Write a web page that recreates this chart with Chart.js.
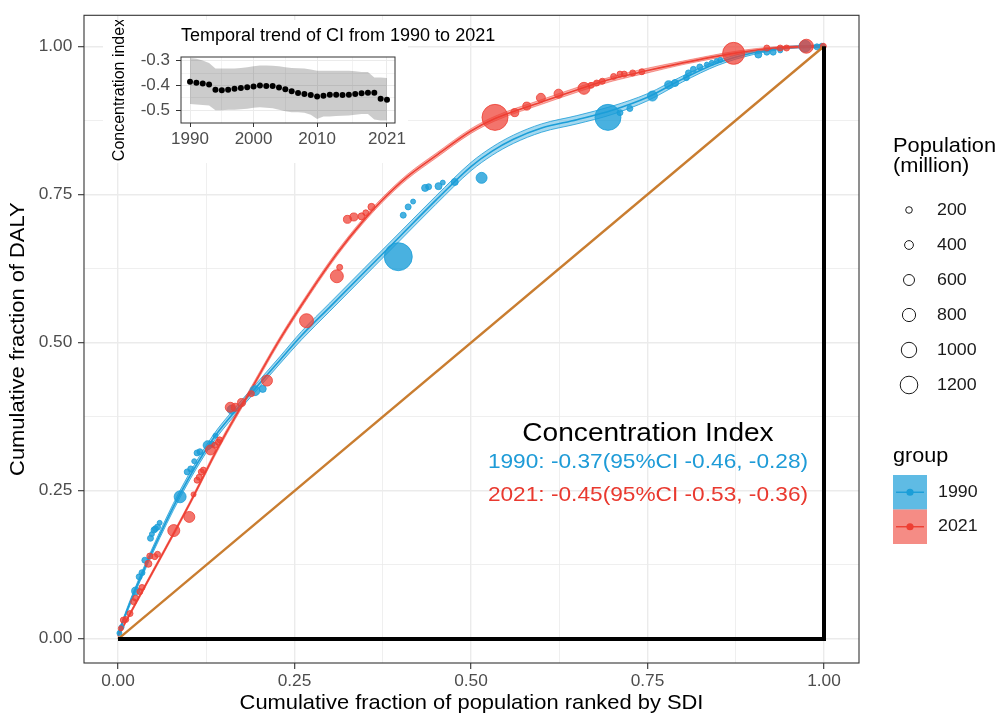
<!DOCTYPE html>
<html>
<head>
<meta charset="utf-8">
<script src="https://cdn.jsdelivr.net/npm/chart.js@4.4.1/dist/chart.umd.min.js"></script>
<style>
html,body{margin:0;padding:0;background:#fff;}
#wrap{position:relative;width:998px;height:716px;background:#fff;}
#main{position:absolute;left:0;top:0;width:998px;height:716px;}
#inset{position:absolute;left:103px;top:20px;width:410px;height:145px;}
</style>
</head>
<body>
<div id="wrap">
<canvas id="main" width="998" height="716"></canvas>
<canvas id="inset" width="410" height="145"></canvas>
</div>
<script>
// ---------------- DATA ----------------
// 1990 countries/territories: cumulative population fraction, cumulative DALY fraction, population (million)
const x1990 = [0.002,0.005,0.025,0.030,0.034,0.038,0.046,0.048,0.051,0.053,0.056,0.059,0.088,0.098,0.103,0.108,0.112,0.116,0.127,0.133,0.138,0.161,0.194,0.205,0.397,0.404,0.411,0.418,0.435,0.440,0.454,0.460,0.477,0.515,0.694,0.711,0.725,0.757,0.780,0.789,0.805,0.808,0.815,0.824,0.834,0.841,0.848,0.853,0.907,0.919,0.928,0.938,0.973,0.990,0.997];
const y1990 = [0.010,0.020,0.081,0.105,0.112,0.133,0.170,0.177,0.184,0.186,0.189,0.196,0.240,0.282,0.287,0.300,0.314,0.316,0.327,0.329,0.343,0.387,0.419,0.422,0.645,0.715,0.729,0.738,0.761,0.763,0.764,0.770,0.771,0.778,0.880,0.888,0.895,0.916,0.935,0.938,0.947,0.955,0.961,0.965,0.969,0.972,0.975,0.977,0.986,0.990,0.990,0.993,1.000,0.999,1.000];
const pop1990 = [55,55,330,145,145,145,145,55,145,145,145,55,690,145,145,55,145,145,420,145,55,420,510,240,2145,145,145,55,240,145,240,55,240,600,1965,145,145,510,330,240,145,145,145,145,55,55,55,55,240,145,145,55,690,145,145];

const x2021 = [0.004,0.0075,0.011,0.017,0.022,0.025,0.031,0.034,0.043,0.045,0.052,0.056,0.079,0.101,0.107,0.112,0.115,0.118,0.121,0.131,0.137,0.142,0.144,0.159,0.166,0.175,0.189,0.211,0.267,0.310,0.314,0.325,0.334,0.345,0.351,0.359,0.534,0.562,0.579,0.599,0.624,0.660,0.670,0.678,0.686,0.702,0.711,0.717,0.729,0.742,0.872,0.919,0.938,0.947,0.975,0.999];
const y2021 = [0.018,0.032,0.033,0.043,0.063,0.069,0.080,0.087,0.127,0.140,0.139,0.143,0.183,0.206,0.244,0.268,0.273,0.282,0.285,0.319,0.327,0.332,0.336,0.391,0.391,0.399,0.414,0.436,0.537,0.612,0.627,0.708,0.712,0.713,0.719,0.729,0.880,0.888,0.899,0.913,0.920,0.929,0.934,0.938,0.941,0.949,0.953,0.953,0.955,0.957,0.988,0.997,0.997,0.997,1.000,1.000];
const pop2021 = [55,145,145,145,145,145,145,145,240,145,145,145,690,600,55,145,145,145,145,510,145,145,145,510,330,330,145,600,875,780,145,330,330,240,145,240,1965,330,330,420,420,690,145,145,145,145,145,145,145,145,1600,145,145,145,875,145];

// fitted concentration curves with standard error
const fit1990X  = [0,0.02,0.05,0.088,0.133,0.165,0.196,0.229,0.26,0.30,0.35,0.40,0.45,0.50,0.53,0.56,0.60,0.65,0.70,0.75,0.80,0.85,0.90,0.95,1.0];
const fit1990Y  = [0.008,0.07,0.152,0.245,0.335,0.383,0.425,0.47,0.512,0.56,0.62,0.68,0.74,0.797,0.823,0.843,0.862,0.876,0.892,0.914,0.945,0.972,0.989,0.998,1.0];
const fit1990SE = [0.003,0.004,0.005,0.006,0.006,0.006,0.006,0.006,0.007,0.007,0.007,0.007,0.007,0.007,0.007,0.007,0.007,0.007,0.007,0.006,0.005,0.004,0.003,0.002,0.002];
const fit2021X  = [0,0.05,0.10,0.144,0.187,0.229,0.272,0.31,0.347,0.373,0.41,0.45,0.50,0.534,0.60,0.654,0.70,0.75,0.80,0.872,0.93,1.0];
const fit2021Y  = [0.005,0.115,0.225,0.328,0.418,0.505,0.585,0.65,0.705,0.739,0.78,0.815,0.857,0.878,0.906,0.928,0.945,0.959,0.972,0.988,0.997,1.0];
const fit2021SE = [0.002,0.003,0.003,0.004,0.004,0.004,0.004,0.004,0.004,0.004,0.004,0.004,0.004,0.004,0.004,0.004,0.004,0.004,0.003,0.003,0.002,0.002];

// reference lines
const equalityX = [0, 1];
const equalityY = [0, 1];
const extremeX = [0, 1, 1];
const extremeY = [0, 0, 1];

// axis ticks
const mainMajorTicks = [0, 0.25, 0.5, 0.75, 1];
const mainGridTicks = [0, 0.125, 0.25, 0.375, 0.5, 0.625, 0.75, 0.875, 1];
const sizeBreaks = [200, 400, 600, 800, 1000, 1200];
const groupLabels = ['1990', '2021'];
const ciTitle = 'Concentration Index';
const ciLabels = ['1990: -0.37(95%CI -0.46, -0.28)', '2021: -0.45(95%CI -0.53, -0.36)'];

// inset: temporal trend of CI
const years = [1990,1991,1992,1993,1994,1995,1996,1997,1998,1999,2000,2001,2002,2003,2004,2005,2006,2007,2008,2009,2010,2011,2012,2013,2014,2015,2016,2017,2018,2019,2020,2021];
const ciValue = [-0.385,-0.389,-0.392,-0.397,-0.418,-0.420,-0.418,-0.414,-0.411,-0.408,-0.405,-0.401,-0.403,-0.403,-0.409,-0.416,-0.424,-0.431,-0.435,-0.439,-0.445,-0.442,-0.438,-0.438,-0.439,-0.438,-0.435,-0.432,-0.430,-0.430,-0.454,-0.458];
const ciUpper = [-0.289,-0.292,-0.299,-0.309,-0.332,-0.332,-0.332,-0.332,-0.330,-0.327,-0.323,-0.319,-0.319,-0.320,-0.323,-0.327,-0.330,-0.331,-0.332,-0.336,-0.341,-0.341,-0.341,-0.341,-0.341,-0.341,-0.343,-0.346,-0.346,-0.368,-0.368,-0.370];
const ciLower = [-0.476,-0.478,-0.480,-0.482,-0.501,-0.501,-0.499,-0.499,-0.497,-0.495,-0.491,-0.489,-0.491,-0.493,-0.499,-0.505,-0.509,-0.509,-0.511,-0.519,-0.536,-0.526,-0.526,-0.524,-0.523,-0.522,-0.519,-0.516,-0.516,-0.539,-0.543,-0.543];
const insetXMajor = [1990, 2000, 2010, 2021];
const insetXGrid = [1990, 1995, 2000, 2005, 2010, 2015.5, 2021];
const insetYMajor = [-0.5, -0.4, -0.3];
const insetYGrid = [-0.5, -0.45, -0.4, -0.35, -0.3];

// ---------------- STYLE ----------------
const FONT = "'Liberation Sans', Arial, Helvetica, sans-serif";
Chart.defaults.font.family = FONT;
Chart.defaults.color = '#4D4D4D';
const BLUE = '#1B9ED8', RED = '#EE3F33';
const BLUE_TXT = '#1E9BD7', RED_TXT = '#E9392F';
const TEXT_SX = 1.08;

const radius = p => 2.2 + 0.0055 * p;
const pts = (xs, ys) => xs.map((x, i) => ({ x: x, y: ys[i] }));
const band = (xs, ys, se, s) => xs.map((x, i) => ({ x: x, y: ys[i] + s * se[i] }));
const isIn = (arr, v) => arr.some(m => Math.abs(m - v) < 1e-9);

function stretchText(ctx) {
  const orig = ctx.fillText;
  ctx.fillText = function (t, x, y, mw) {
    this.save();
    this.translate(x, y);
    this.scale(TEXT_SX, 1);
    if (mw === undefined || mw === null) orig.call(this, t, 0, 0);
    else orig.call(this, t, 0, 0, mw / TEXT_SX);
    this.restore();
  };
}

// ---------------- MAIN CHART ----------------
const mainCtx = document.getElementById('main').getContext('2d');
stretchText(mainCtx);

const panelBorder = {
  id: 'panelBorder',
  afterDatasetsDraw(chart) {
    const { ctx, chartArea: a } = chart;
    ctx.save();
    ctx.strokeStyle = '#333333';
    ctx.lineWidth = 1.1;
    ctx.strokeRect(a.left, a.top, a.right - a.left, a.bottom - a.top);
    ctx.restore();
  }
};

const annotations = {
  id: 'annotations',
  afterDraw(chart) {
    const ctx = chart.ctx;
    ctx.save();
    // concentration index text
    ctx.textAlign = 'center';
    ctx.textBaseline = 'alphabetic';
    ctx.fillStyle = '#000';
    ctx.font = '26px ' + FONT;
    ctx.fillText(ciTitle, 648, 441);
    ctx.font = '21px ' + FONT;
    ctx.fillStyle = BLUE_TXT;
    ctx.fillText(ciLabels[0], 648, 467.5);
    ctx.fillStyle = RED_TXT;
    ctx.fillText(ciLabels[1], 648, 500.5);

    // size legend
    ctx.textAlign = 'left';
    ctx.fillStyle = '#000';
    ctx.font = '20.2px ' + FONT;
    ctx.fillText('Population', 893, 152);
    ctx.fillText('(million)', 893, 172);
    ctx.font = '16.5px ' + FONT;
    ctx.textBaseline = 'middle';
    sizeBreaks.forEach((p, i) => {
      const y = 210 + i * 35;
      ctx.beginPath();
      ctx.arc(909, y, radius(p), 0, Math.PI * 2);
      ctx.strokeStyle = '#1a1a1a';
      ctx.lineWidth = 1;
      ctx.stroke();
      ctx.fillStyle = '#1a1a1a';
      ctx.fillText(String(p), 937, y);
    });

    // group legend
    ctx.textBaseline = 'alphabetic';
    ctx.fillStyle = '#000';
    ctx.font = '20px ' + FONT;
    ctx.fillText('group', 893, 461.5);
    const keys = [
      { fill: 'rgba(27,158,216,0.7)', col: BLUE, y: 475 },
      { fill: 'rgba(238,63,51,0.6)', col: RED, y: 509.5 }
    ];
    keys.forEach((k, i) => {
      ctx.fillStyle = k.fill;
      ctx.fillRect(893, k.y, 34, 34.5);
      const cy = k.y + 17.25;
      ctx.strokeStyle = k.col;
      ctx.lineWidth = 1.4;
      ctx.beginPath(); ctx.moveTo(896, cy); ctx.lineTo(924, cy); ctx.stroke();
      ctx.beginPath(); ctx.arc(910, cy, 3.6, 0, Math.PI * 2);
      ctx.fillStyle = k.col; ctx.fill();
      ctx.fillStyle = '#1a1a1a';
      ctx.font = '16.5px ' + FONT;
      ctx.textBaseline = 'middle';
      ctx.fillText(groupLabels[i], 938, cy);
    });
    ctx.restore();
  }
};

const gridOpts = {
  color: '#EBEBEB',
  lineWidth: c => (c.tick && isIn(mainMajorTicks, c.tick.value)) ? 1.4 : 0.8,
  drawTicks: true,
  tickLength: 6,
  tickWidth: 1.1,
  tickColor: c => (c.tick && isIn(mainMajorTicks, c.tick.value)) ? '#333333' : 'rgba(0,0,0,0)'
};

new Chart(mainCtx, {
  type: 'line',
  data: {
    datasets: [
      { label: 'extreme', data: pts(extremeX, extremeY), showLine: true, borderColor: '#000', borderWidth: 4, pointRadius: 0, borderJoinStyle: 'miter', order: 0 },
      { label: 'equality', data: pts(equalityX, equalityY), showLine: true, borderColor: '#C97D30', borderWidth: 2.4, pointRadius: 0, order: 1 },
      { label: '2021', data: pts(x2021, y2021), showLine: false, pointRadius: c => radius(pop2021[c.dataIndex]), pointBackgroundColor: 'rgba(238,63,51,0.72)', pointBorderColor: RED, pointBorderWidth: 0.8, order: 2 },
      { label: '1990', data: pts(x1990, y1990), showLine: false, pointRadius: c => radius(pop1990[c.dataIndex]), pointBackgroundColor: 'rgba(27,158,216,0.8)', pointBorderColor: BLUE, pointBorderWidth: 0.8, order: 3 },
      { label: 'fit2021', data: pts(fit2021X, fit2021Y), showLine: true, borderColor: RED, borderWidth: 1.6, pointRadius: 0, cubicInterpolationMode: 'monotone', order: 4 },
      { label: 'fit2021hi', data: band(fit2021X, fit2021Y, fit2021SE, 1), showLine: true, borderColor: 'rgba(238,63,51,0.6)', borderWidth: 0.8, backgroundColor: 'rgba(238,63,51,0.4)', fill: '+1', pointRadius: 0, cubicInterpolationMode: 'monotone', order: 5 },
      { label: 'fit2021lo', data: band(fit2021X, fit2021Y, fit2021SE, -1), showLine: true, borderColor: 'rgba(238,63,51,0.6)', borderWidth: 0.8, fill: false, pointRadius: 0, cubicInterpolationMode: 'monotone', order: 6 },
      { label: 'fit1990', data: pts(fit1990X, fit1990Y), showLine: true, borderColor: BLUE, borderWidth: 1.6, pointRadius: 0, cubicInterpolationMode: 'monotone', order: 7 },
      { label: 'fit1990hi', data: band(fit1990X, fit1990Y, fit1990SE, 1), showLine: true, borderColor: 'rgba(27,158,216,0.8)', borderWidth: 1, backgroundColor: 'rgba(27,158,216,0.4)', fill: '+1', pointRadius: 0, cubicInterpolationMode: 'monotone', order: 8 },
      { label: 'fit1990lo', data: band(fit1990X, fit1990Y, fit1990SE, -1), showLine: true, borderColor: 'rgba(27,158,216,0.8)', borderWidth: 1, fill: false, pointRadius: 0, cubicInterpolationMode: 'monotone', order: 9 }
    ]
  },
  options: {
    responsive: false,
    animation: false,
    events: [],
    layout: { padding: { left: 0, right: 139, top: 14, bottom: 0 } },
    plugins: { legend: { display: false }, tooltip: { enabled: false } },
    scales: {
      x: {
        type: 'linear',
        min: -0.04816,
        max: 1.04958,
        afterBuildTicks: s => { s.ticks = mainGridTicks.map(v => ({ value: v })); },
        afterFit: s => { s.height = 53; },
        ticks: {
          autoSkip: false, maxRotation: 0, padding: 3.2,
          font: { size: 16 }, color: '#4D4D4D',
          callback: v => isIn(mainMajorTicks, v) ? v.toFixed(2) : ''
        },
        grid: gridOpts,
        border: { display: false },
        title: { display: true, text: 'Cumulative fraction of population ranked by SDI', color: '#000', font: { size: 20.3, lineHeight: 1 }, padding: { top: 0, bottom: 2 } }
      },
      y: {
        type: 'linear',
        min: -0.0404,
        max: 1.0522,
        afterBuildTicks: s => { s.ticks = mainGridTicks.map(v => ({ value: v })); },
        afterFit: s => { s.width = 84; },
        ticks: {
          autoSkip: false, padding: 5.7,
          font: { size: 16 }, color: '#4D4D4D',
          callback: v => isIn(mainMajorTicks, v) ? v.toFixed(2) : ''
        },
        grid: gridOpts,
        border: { display: false },
        title: { display: true, text: 'Cumulative fraction of DALY', color: '#000', font: { size: 20.3, lineHeight: 1 }, padding: { top: 8, bottom: 0 } }
      }
    }
  },
  plugins: [panelBorder, annotations]
});

// ---------------- INSET CHART ----------------
const insetCtx = document.getElementById('inset').getContext('2d');

const insetDeco = {
  id: 'insetDeco',
  beforeDraw(chart) {
    const ctx = chart.ctx;
    ctx.save();
    ctx.fillStyle = '#ffffff';
    ctx.fillRect(0, 0, 305, 143);
    ctx.restore();
  },
  afterDatasetsDraw(chart) {
    const { ctx, chartArea: a } = chart;
    ctx.save();
    ctx.strokeStyle = '#333333';
    ctx.lineWidth = 1;
    ctx.strokeRect(a.left, a.top, a.right - a.left, a.bottom - a.top);
    ctx.restore();
  },
  afterDraw(chart) {
    const ctx = chart.ctx;
    ctx.save();
    ctx.fillStyle = '#000';
    ctx.font = '18px ' + FONT;
    ctx.textAlign = 'left';
    ctx.textBaseline = 'alphabetic';
    ctx.fillText('Temporal trend of CI from 1990 to 2021', 78, 21);
    ctx.restore();
  }
};

new Chart(insetCtx, {
  type: 'line',
  data: {
    datasets: [
      { label: 'CI', data: pts(years, ciValue), showLine: false, pointRadius: 3, pointBackgroundColor: '#000', pointBorderColor: '#000', pointBorderWidth: 0, order: 0 },
      { label: 'upper', data: pts(years, ciUpper), showLine: true, borderWidth: 0, borderColor: 'rgba(0,0,0,0)', backgroundColor: 'rgba(0,0,0,0.2)', fill: '+1', pointRadius: 0, tension: 0, order: 1 },
      { label: 'lower', data: pts(years, ciLower), showLine: true, borderWidth: 0, borderColor: 'rgba(0,0,0,0)', fill: false, pointRadius: 0, tension: 0, order: 2 }
    ]
  },
  options: {
    responsive: false,
    animation: false,
    events: [],
    layout: { padding: { left: 0, right: 118, top: 37, bottom: 0 } },
    plugins: { legend: { display: false }, tooltip: { enabled: false } },
    scales: {
      x: {
        type: 'linear',
        min: 1988.58,
        max: 2022.26,
        afterBuildTicks: s => { s.ticks = insetXGrid.map(v => ({ value: v })); },
        afterFit: s => { s.height = 42; },
        ticks: {
          autoSkip: false, maxRotation: 0, padding: 2.5,
          font: { size: 17 }, color: '#4D4D4D',
          callback: v => isIn(insetXMajor, v) ? String(v) : ''
        },
        grid: {
          color: '#EBEBEB',
          lineWidth: c => (c.tick && isIn(insetXMajor, c.tick.value)) ? 1 : 0.6,
          tickLength: 4, tickWidth: 1,
          tickColor: c => (c.tick && isIn(insetXMajor, c.tick.value)) ? '#333333' : 'rgba(0,0,0,0)'
        },
        border: { display: false }
      },
      y: {
        type: 'linear',
        min: -0.5527,
        max: -0.285,
        afterBuildTicks: s => { s.ticks = insetYGrid.map(v => ({ value: v })); },
        afterFit: s => { s.width = 78; },
        ticks: {
          autoSkip: false, padding: 6,
          font: { size: 17 }, color: '#4D4D4D',
          callback: v => isIn(insetYMajor, v) ? v.toFixed(1) : ''
        },
        grid: {
          color: '#EBEBEB',
          lineWidth: c => (c.tick && isIn(insetYMajor, c.tick.value)) ? 1 : 0.6,
          tickLength: 5, tickWidth: 1,
          tickColor: c => (c.tick && isIn(insetYMajor, c.tick.value)) ? '#333333' : 'rgba(0,0,0,0)'
        },
        border: { display: false },
        title: { display: true, text: 'Concentration index', color: '#000', font: { size: 16, lineHeight: 1 }, padding: { top: 9, bottom: 0 } }
      }
    }
  },
  plugins: [insetDeco]
});
</script>
</body>
</html>
